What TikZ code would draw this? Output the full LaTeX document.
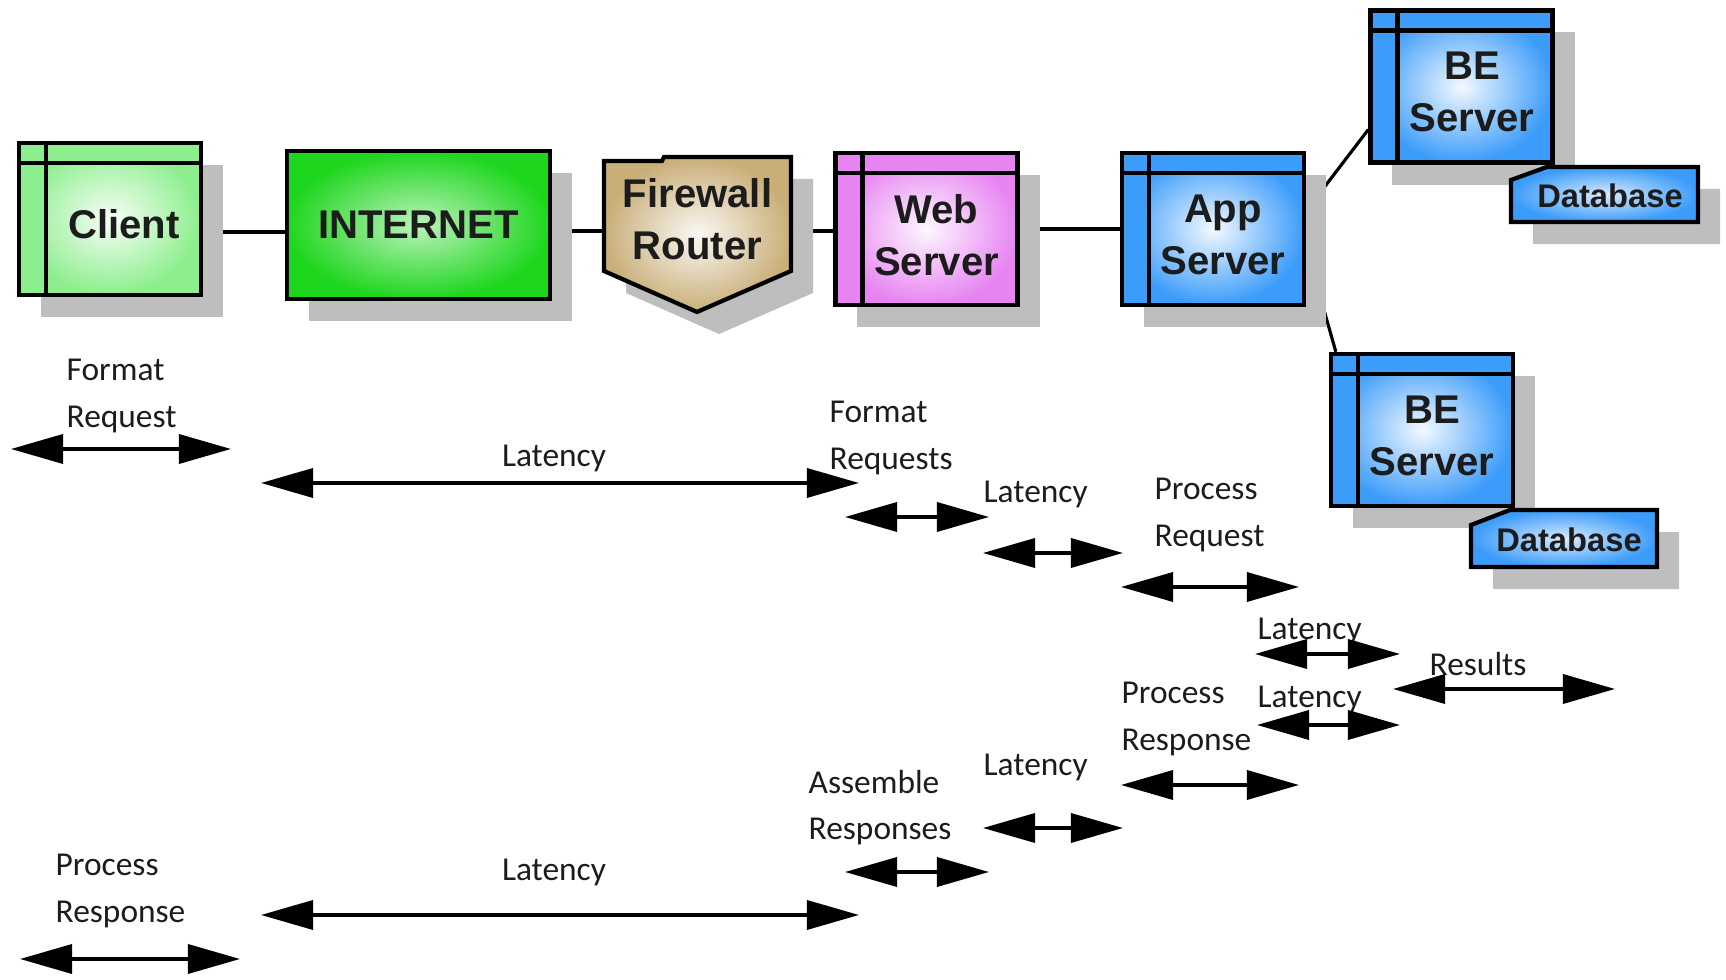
\documentclass[tikz,border=0pt]{standalone}
\usepackage{fontspec}
\setmainfont{Carlito}
\newfontfamily\boxfont{Liberation Sans}
\usetikzlibrary{arrows.meta,shadows,backgrounds,calc}

\definecolor{shadowgray}{HTML}{BEBEBE}
\definecolor{clientgreen}{HTML}{8CEE8C}
\definecolor{netgreen}{HTML}{1FD61F}
\definecolor{fwtan}{HTML}{C9AE78}
\definecolor{webpink}{HTML}{E784F2}
\definecolor{serverblue}{HTML}{3C9CFA}
\definecolor{inkgray}{HTML}{1C1C1C}

\begin{document}
\begin{tikzpicture}[
    x=0.01cm,
    y=-0.01cm,
    >={Triangle[length=0.52cm,width=0.29cm]},
    shadowed/.style={drop shadow={shadow xshift=0.22cm,shadow yshift=-0.22cm,
        fill=shadowgray,opacity=1}},
    box/.style={draw,line width=1.2pt,minimum width=1.82cm,minimum height=1.52cm,
        outer color=#1,inner color=white!94!#1,shadowed},
    server/.style={box=#1,path picture={
        \fill[#1] (path picture bounding box.north west)
            rectangle ([xshift=0.27cm]path picture bounding box.south west);
        \fill[#1] (path picture bounding box.north west)
            rectangle ([yshift=-0.2cm]path picture bounding box.north east);
        \draw[line width=1.2pt] ([xshift=0.27cm]path picture bounding box.north west)
            -- ([xshift=0.27cm]path picture bounding box.south west);
        \draw[line width=1.2pt] ([yshift=-0.2cm]path picture bounding box.north west)
            -- ([yshift=-0.2cm]path picture bounding box.north east);}},
    boxtext/.style={font=\boxfont\bfseries\fontsize{11.4}{14.8}\selectfont,
        align=center,inner sep=0pt,text=inkgray},
    tag/.style={font=\fontsize{9.5}{13.1}\selectfont,align=left,anchor=west,
        inner sep=0pt,text=inkgray},
    span/.style={<->,line width=1pt},
    link/.style={line width=0.9pt}
]
    \useasboundingbox (0,0) rectangle (1726,980);

    % Client and internet
    \node[server=clientgreen] (client) at (110,219) {};
    \node[boxtext] (clienttxt) at (124,224) {Client};
    \node[box=netgreen,inner color=netgreen!30!white,boxtext,
        minimum width=2.63cm,minimum height=1.48cm] (inet) at (418.5,225) {INTERNET};

    % Firewall
    \shadedraw[inner color=fwtan!8!white,outer color=fwtan,line width=1.2pt,shadowed]
        (604,161) -- (662,161) -- (664,157) -- (791,157) -- (791,271)
        -- (697,312) -- (604,271) -- cycle;
    \node[boxtext,minimum width=1.87cm,minimum height=1.15cm] (fw)
        at (697.5,219) {Firewall\\Router};

    % Web and app servers
    \node[server=webpink] (web) at (926.5,229) {};
    \node[boxtext] (webtxt) at (936.5,235) {Web\\Server};
    \node[server=serverblue] (app) at (1213,229) {};
    \node[boxtext] (apptxt) at (1223,235) {App\\Server};

    % Back end servers
    \node[server=serverblue] (be1) at (1461.5,86.5) {};
    \node[boxtext] (be1txt) at (1472,92) {BE\\Server};
    \shadedraw[inner color=serverblue!20!white,outer color=serverblue,line width=1.2pt,shadowed]
        (1511,180) -- (1547,167) -- (1698,167) -- (1698,222) -- (1511,222) -- cycle;
    \node[boxtext,font=\boxfont\bfseries\fontsize{9.3}{11}\selectfont] (db1)
        at (1610,196) {Database};
    \node[server=serverblue] (be2) at (1422,430) {};
    \node[boxtext] (be2txt) at (1432,436) {BE\\Server};
    \shadedraw[inner color=serverblue!20!white,outer color=serverblue,line width=1.2pt,shadowed]
        (1471,525) -- (1510,510) -- (1657,510) -- (1657,567) -- (1471,567) -- cycle;
    \node[boxtext,font=\boxfont\bfseries\fontsize{9.3}{11}\selectfont] (db2)
        at (1569,540) {Database};

    % Links, behind the shadows
    \begin{scope}[on background layer]
        \draw[link] ($(client.east)+(0,13)$) -- ($(inet.west)+(0,7)$);
        \draw[link] ($(inet.east)+(0,6)$) -- ($(fw.west)+(0,12)$);
        \draw[link] ($(fw.east)+(0,12)$) -- ($(web.west)+(0,2)$);
        \draw[link] (web.east) -- (app.west);
        \draw[link] ($(app.east)+(0,-18)$) -- ($(be1.west)+(0,43)$);
        \draw[link] ($(app.south east)+(17,0)$) -- ($(be2.north west)+(7,0)$);
    \end{scope}

    % Request path
    \node[tag] (fmtreq) at (66,396) {Format\\Request};
    \draw[span] (11,449) -- (231,449);
    \node[tag,anchor=center] (lat1) at (554,458) {Latency};
    \draw[span] (261,483) -- (859,483);
    \node[tag] (fmtreqs) at (829,438) {Format\\Requests};
    \draw[span] (845,517) -- (989,517);
    \node[tag] (lat2) at (983,494) {Latency};
    \draw[span] (983,553) -- (1123,553);
    \node[tag] (procreq) at (1154,515) {Process\\Request};
    \draw[span] (1121,587) -- (1299,587);
    \node[tag] (lat3) at (1257,631) {Latency};
    \draw[span] (1255,654) -- (1400,654);
    \node[tag] (results) at (1429,664) {Results};
    \draw[span] (1393,689) -- (1615,689);

    % Response path
    \node[tag] (lat4) at (1257,699) {Latency};
    \draw[span] (1257,725) -- (1400,725);
    \node[tag] (procresp1) at (1121,719) {Process\\Response};
    \draw[span] (1121,785) -- (1299,785);
    \node[tag] (lat5) at (983,767) {Latency};
    \draw[span] (983,828) -- (1123,828);
    \node[tag] (assemble) at (808,808) {Assemble\\Responses};
    \draw[span] (845,872) -- (989,872);
    \node[tag,anchor=center] (lat6) at (554,872) {Latency};
    \draw[span] (261,915) -- (859,915);
    \node[tag] (procresp2) at (55,891) {Process\\Response};
    \draw[span] (20,959) -- (240,959);
\end{tikzpicture}
\end{document}
